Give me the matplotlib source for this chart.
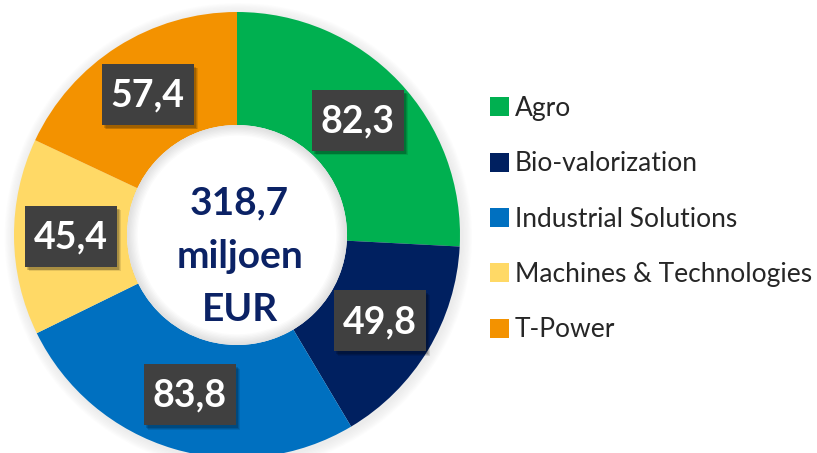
import matplotlib
matplotlib.use("Agg")
import matplotlib.pyplot as plt
import numpy as np
from matplotlib.patches import Circle, Rectangle, Wedge

categories = ["Agro", "Bio-valorization", "Industrial Solutions",
              "Machines & Technologies", "T-Power"]
values = [82.3, 49.8, 83.8, 45.4, 57.4]
value_labels = ["82,3", "49,8", "83,8", "45,4", "57,4"]
colors = ["#00B050", "#002060", "#0070C0", "#FFD966", "#F39200"]
center_text = "318,7\nmiljoen\nEUR"

W, H = 817, 453
fig = plt.figure(figsize=(W / 100, H / 100), dpi=100)
fig.patch.set_facecolor("white")

cx, cy = 237, 453 - 235   # centre in px (from bottom)
R = 223.0
half = 250.0
ax = fig.add_axes([(cx - half) / W, (cy - half) / H, 2 * half / W, 2 * half / H])
lim = half / R

inner = 110.0 / R
width = 1 - inner

# soft outer shadow
for k in range(8, 0, -1):
    ax.add_patch(Circle((0.006, -0.008), 1.0 + k * 0.006, color="#909090",
                        alpha=0.018, lw=0, zorder=0))

wedges, _ = ax.pie(values, colors=colors, startangle=90, counterclock=False,
                   radius=1.0, wedgeprops=dict(width=width, linewidth=0))
ax.set_xlim(-lim, lim)
ax.set_ylim(-lim, lim)
ax.set_aspect("equal")
ax.axis("off")

# inner hole with slight inner shadow
ax.add_patch(Circle((0, 0), inner, color="white", lw=0, zorder=3))
for k in range(8):
    ax.add_patch(Wedge((0.0, 0.0), inner, 0, 360, width=0.006 * (k + 1),
                       color="#9a9a9a", alpha=0.04, lw=0, zorder=3))

ax.text(0.012, -0.095, center_text, ha="center", va="center", fontsize=28,
        fontweight="bold", color="#0B2265", family="Lato",
        linespacing=1.62, zorder=5)

bw, bh = 92 / R, 61 / R
rmid = 1 - width / 2
for w, lab in zip(wedges, value_labels):
    th = np.deg2rad((w.theta1 + w.theta2) / 2)
    x, y = rmid * np.cos(th), rmid * np.sin(th)
    for k, a in [(3, 0.10), (2, 0.12), (1, 0.16)]:
        ax.add_patch(Rectangle((x - bw / 2 + 0.008 + 0.004 * k, y - bh / 2 - 0.008 - 0.004 * k),
                               bw, bh, color="#000000", alpha=a, lw=0, zorder=6))
    ax.add_patch(Rectangle((x - bw / 2, y - bh / 2), bw, bh, color="#404040",
                           lw=0, zorder=7))
    ax.text(x, y - 0.005, lab, ha="center", va="center", fontsize=27,
            fontweight="bold", color="white", family="Lato", zorder=8)

leg = fig.legend(wedges, categories, loc="upper left",
                 bbox_to_anchor=(490 / W, 1 - 96 / H), frameon=False,
                 handlelength=0.72, handleheight=0.72,
                 handletextpad=0.22, labelspacing=1.15, borderpad=0,
                 borderaxespad=0, prop=dict(family="Lato", size=19))
for t in leg.get_texts():
    t.set_color("#262626")

fig.savefig("out.png", dpi=100)
